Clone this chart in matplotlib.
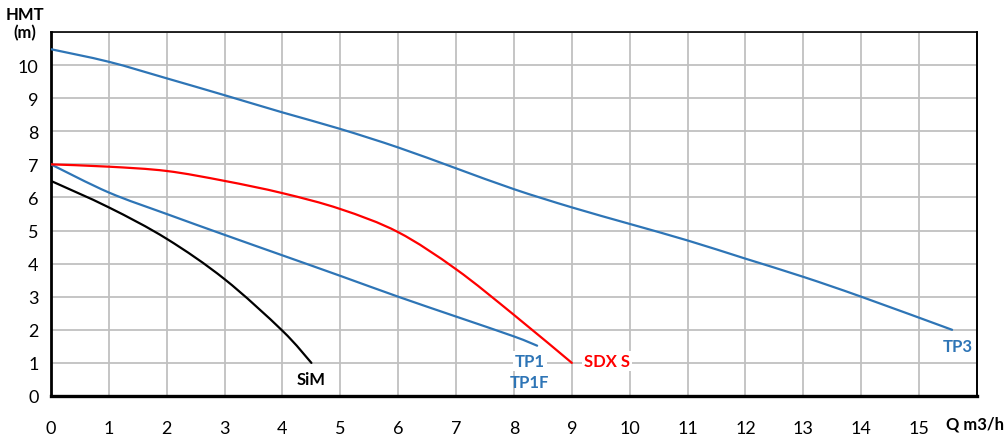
import matplotlib
matplotlib.use("Agg")
import matplotlib.pyplot as plt
from matplotlib.path import Path
from matplotlib.patches import PathPatch

plt.rcParams["font.family"] = ["Lato", "DejaVu Sans"]

# pump curves (Q in m3/h, HMT in m)
tp3_q = [0, 1, 2, 3, 4, 5, 6, 7, 8, 9, 10, 11, 12, 13, 14, 15.57]
tp3_h = [10.48, 10.1, 9.6, 9.09, 8.57, 8.07, 7.51, 6.88, 6.25, 5.7, 5.2, 4.7, 4.15, 3.6, 3.0, 2.0]

tp1_q = [0, 1, 2, 3, 4, 5, 6, 7, 8, 8.4]
tp1_h = [7.0, 6.15, 5.5, 4.87, 4.25, 3.63, 3.0, 2.4, 1.8, 1.52]

sdx_q = [0, 1, 2, 3, 4, 5, 6, 7, 8, 9]
sdx_h = [7.0, 6.93, 6.8, 6.5, 6.13, 5.65, 4.95, 3.83, 2.45, 1.0]

sim_q = [0, 1, 2, 3, 4, 4.5]
sim_h = [6.5, 5.7, 4.75, 3.53, 1.97, 1.0]

x_ticks = list(range(0, 16))
y_ticks = list(range(0, 11))

BLUE = "#2E75B6"
RED = "#FF0000"


def smooth_line(ax, xs, ys, color):
    # Excel-style smoothed line: Catmull-Rom segments drawn as cubic Beziers
    pts = list(zip(xs, ys))
    verts = [pts[0]]
    codes = [Path.MOVETO]
    n = len(pts)
    for i in range(n - 1):
        p0 = pts[max(i - 1, 0)]
        p1 = pts[i]
        p2 = pts[i + 1]
        p3 = pts[min(i + 2, n - 1)]
        c1 = (p1[0] + (p2[0] - p0[0]) / 6, p1[1] + (p2[1] - p0[1]) / 6)
        c2 = (p2[0] - (p3[0] - p1[0]) / 6, p2[1] - (p3[1] - p1[1]) / 6)
        verts += [c1, c2, p2]
        codes += [Path.CURVE4] * 3
    ax.add_patch(PathPatch(Path(verts, codes), facecolor="none", edgecolor=color,
                           lw=1.6, capstyle="round", joinstyle="round", zorder=3))


fig = plt.figure(figsize=(10.07, 4.39), dpi=100)
ax = fig.add_axes([0.0506, 0.0957, 0.9196, 0.8291])

smooth_line(ax, tp3_q, tp3_h, BLUE)
smooth_line(ax, tp1_q, tp1_h, BLUE)
smooth_line(ax, sdx_q, sdx_h, RED)
smooth_line(ax, sim_q, sim_h, "black")

lbl = dict(fontsize=12, fontweight="bold", ha="center", va="center", zorder=4)
box = dict(facecolor="white", edgecolor="none", pad=1.5)
ax.text(4.5, 0.5, "SiM", color="black", **lbl)
ax.text(8.27, 1.05, "TP1", color=BLUE, bbox=box, **lbl)
ax.text(8.27, 0.42, "TP1F", color=BLUE, **lbl)
ax.text(9.6, 1.05, "SDX S", color=RED, bbox=box, **lbl)
ax.text(15.67, 1.5, "TP3", color=BLUE, **lbl)

ax.set_xlim(0, 16)
ax.set_ylim(0, 11)
ax.set_xticks(list(range(0, 17)))
ax.set_xticklabels([str(v) for v in x_ticks] + [""])
ax.set_yticks(list(range(0, 12)))
ax.set_yticklabels([str(v) for v in y_ticks] + [""])
ax.tick_params(axis="both", length=0, labelsize=13, colors="black")
ax.tick_params(axis="x", pad=17)
ax.tick_params(axis="y", pad=9)
ax.grid(True, color="#C0C0C0", lw=1.3)
ax.set_axisbelow(True)

for side, w in [("left", 2.0), ("bottom", 2.4), ("top", 1.2), ("right", 1.4)]:
    ax.spines[side].set_linewidth(w)
    ax.spines[side].set_color("black")

fig.text(25 / 1007, 1 - 24 / 439, "HMT\n(m)", fontsize=12, fontweight="bold",
         ha="center", va="center", linespacing=1.1)
fig.text(975 / 1007, 1 - 425 / 439, "Q m3/h", fontsize=12, fontweight="bold",
         ha="center", va="center")

fig.savefig("out.png", dpi=100)
